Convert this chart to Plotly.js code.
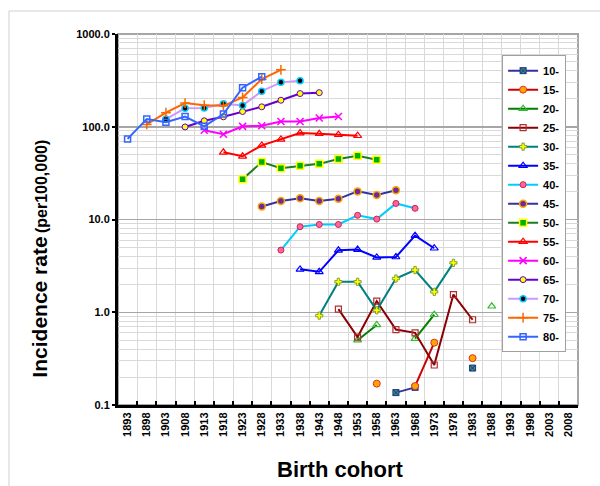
<!DOCTYPE html>
<html>
<head>
<meta charset="utf-8">
<script src="https://cdn.plot.ly/plotly-3.0.1.min.js"></script>
<style>
  html, body { margin: 0; padding: 0; background: #fff; }
  #chart { width: 600px; height: 486px; }
</style>
</head>
<body>
<div id="chart"></div>
<script>
// Birth cohort categories (x axis)
const cohorts = ["1893","1898","1903","1908","1913","1918","1923","1928","1933","1938","1943","1948",
                 "1953","1958","1963","1968","1973","1978","1983","1988","1993","1998","2003","2008"];

// Age-group series: name, first cohort, incidence rates (per 100,000); null = no value
const ageGroups = ["10-","15-","20-","25-","30-","35-","40-","45-","50-","55-","60-","65-","70-","75-","80-"];
const startCohort = {
  "10-":"1963","15-":"1958","20-":"1953","25-":"1948","30-":"1943","35-":"1938","40-":"1933","45-":"1928",
  "50-":"1923","55-":"1918","60-":"1913","65-":"1908","70-":"1903","75-":"1898","80-":"1893"
};
const rate10 = [0.136, 0.155, null, null, 0.25];
const rate15 = [0.17, null, 0.16, 0.47, null, 0.32];
const rate20 = [0.50, 0.73, null, 0.52, 0.94, null, null, 1.16];
const rate25 = [1.08, 0.54, 1.32, 0.65, 0.60, 0.27, 1.55, 0.83];
const rate30 = [0.92, 2.13, 2.13, 1.05, 2.31, 2.85, 1.66, 3.41];
const rate35 = [2.9, 2.73, 4.65, 4.74, 3.9, 3.94, 6.7, 4.9];
const rate40 = [4.68, 8.36, 8.83, 8.83, 11.1, 10.1, 14.9, 13.2];
const rate45 = [13.8, 15.8, 16.9, 15.8, 16.7, 20.1, 18.4, 20.7];
const rate50 = [27.2, 41.6, 35.8, 37.9, 39.8, 44.8, 48.6, 44.0];
const rate55 = [53, 48, 63, 73, 85.5, 84, 82, 80];
const rate60 = [91.6, 83, 101, 102.5, 114, 114, 124, 129];
const rate65 = [99.5, 116, 128, 146, 164, 193, 228, 233];
const rate70 = [121, 158, 159, 177, 170, 242, 301, 314];
const rate75 = [106, 142, 180, 171, 168, 207, 326, 411];
const rate80 = [74, 121, 112, 129, 101, 137, 264, 347];

const rates = {"10-":rate10,"15-":rate15,"20-":rate20,"25-":rate25,"30-":rate30,"35-":rate35,"40-":rate40,
  "45-":rate45,"50-":rate50,"55-":rate55,"60-":rate60,"65-":rate65,"70-":rate70,"75-":rate75,"80-":rate80};

// Styles
const styles = {
  "10-": {line:"#333399", marker:{symbol:"square-x", color:"#339966", size:6, line:{color:"#1F2F8F", width:1}}},
  "15-": {line:"#CC0000", marker:{symbol:"circle", color:"#FFA500", size:7, line:{color:"#E03020", width:1}}},
  "20-": {line:"#008000", marker:{symbol:"triangle-up-open", color:"#33BB33", size:7, line:{color:"#33BB33", width:1.2}}},
  "25-": {line:"#8B0000", marker:{symbol:"square-open", color:"#B03030", size:6, line:{color:"#B03030", width:1.2}}},
  "30-": {line:"#008080", marker:{symbol:"cross", color:"#FFFF00", size:6, line:{color:"#6B8E23", width:0.8}}},
  "35-": {line:"#0000FF", marker:{symbol:"triangle-up-open", color:"#0000FF", size:7, line:{color:"#0000FF", width:1.2}}},
  "40-": {line:"#00CCFF", marker:{symbol:"circle", color:"#FF6699", size:6, line:{color:"#CC2255", width:1}}},
  "45-": {line:"#333399", marker:{symbol:"circle", color:"#6A2C9A", size:7, line:{color:"#FFA500", width:1.5}}},
  "50-": {line:"#1E7B1E", marker:{symbol:"square", color:"#00B000", size:7, line:{color:"#FFFF00", width:1.5}}},
  "55-": {line:"#FF0000", marker:{symbol:"triangle-up-open", color:"#FF0000", size:7, line:{color:"#FF0000", width:1.2}}},
  "60-": {line:"#FF00FF", marker:{symbol:"x-thin-open", color:"#FF00FF", size:7, line:{color:"#FF00FF", width:1.5}}},
  "65-": {line:"#6600CC", marker:{symbol:"circle", color:"#FFFF00", size:6, line:{color:"#6600CC", width:1}}},
  "70-": {line:"#CC99FF", marker:{symbol:"circle", color:"#000000", size:6, line:{color:"#00CCFF", width:1.5}}},
  "75-": {line:"#FF6600", marker:{symbol:"cross-thin-open", color:"#FF6600", size:7, line:{color:"#FF6600", width:1.5}}},
  "80-": {line:"#3366FF", marker:{symbol:"square-open", color:"#3366FF", size:6, line:{color:"#3366FF", width:1.5}}}
};

const traces = ageGroups.map(g => {
  const vals = rates[g];
  const s = cohorts.indexOf(startCohort[g]);
  const xs = vals.map((v, i) => cohorts[s + i]);
  return {
    type: "scatter", mode: "lines+markers", name: g,
    x: xs, y: vals, connectgaps: false,
    line: {color: styles[g].line, width: 2},
    marker: styles[g].marker
  };
});

const fontFam = "Liberation Sans, Arial, sans-serif";
const decadeVals = [0.1, 1, 10, 100, 1000];
const decadeText = ["0.1", "1.0", "10.0", "100.0", "1000.0"];
const minorVals = [];
[0.1, 1, 10, 100].forEach(b => { for (let k = 2; k <= 9; k++) minorVals.push(b * k); });

const layout = {
  width: 600, height: 486,
  margin: {l: 118, r: 22, t: 34, b: 81},
  paper_bgcolor: "#fff", plot_bgcolor: "#fff",
  font: {family: fontFam, color: "#000"},
  showlegend: true,
  legend: {
    x: 0.835, xanchor: "left", y: 0.943, yanchor: "top",
    bgcolor: "#fff", bordercolor: "#A0A0A0", borderwidth: 1,
    font: {family: fontFam, size: 11, color: "#000", weight: "bold"},
    itemwidth: 30, tracegroupgap: 0
  },
  xaxis: {
    type: "category", categoryorder: "array", categoryarray: cohorts,
    range: [-0.5, cohorts.length - 0.5],
    tickson: "boundaries", ticks: "inside", ticklen: 4, tickwidth: 2, tickcolor: "#000",
    tickangle: -90, tickfont: {family: fontFam, size: 11, weight: "bold"},
    showgrid: true, gridcolor: "#D9D9D9", gridwidth: 1,
    showline: true, linecolor: "#000", linewidth: 3,
    zeroline: false, fixedrange: true
  },
  yaxis: {
    type: "log", range: [-1, 3],
    tickmode: "array", tickvals: decadeVals, ticktext: decadeText,
    tickfont: {family: fontFam, size: 11, weight: "bold"},
    ticks: "outside", ticklen: 3, tickwidth: 2, tickcolor: "#000",
    showgrid: true, gridcolor: "#A6A6A6", gridwidth: 1.5,
    minor: {tickmode: "array", tickvals: minorVals, showgrid: true, gridcolor: "#D9D9D9", gridwidth: 1, ticks: ""},
    showline: true, linecolor: "#000", linewidth: 3,
    zeroline: false, fixedrange: true
  },
  shapes: [
    {type: "rect", xref: "paper", yref: "paper", x0: -0.237, x1: 1.2, y0: -0.4, y1: 1.062,
     line: {color: "#D0D0D0", width: 1}, layer: "below"},
    {type: "rect", xref: "paper", yref: "paper", x0: 0, x1: 1, y0: 0, y1: 1,
     line: {color: "#A6A6A6", width: 2}, layer: "below"}
  ],
  annotations: [
    {xref: "paper", yref: "paper", x: -0.17, y: 0.394, textangle: -90, showarrow: false,
     xanchor: "center", yanchor: "middle",
     text: "<b><span style='font-size:21px'>Incidence rate</span> <span style='font-size:16px'>(per100,000)</span></b>",
     font: {family: fontFam, color: "#000"}},
    {xref: "paper", yref: "paper", x: 0.483, y: -0.173, showarrow: false,
     xanchor: "center", yanchor: "middle",
     text: "<b>Birth cohort</b>", font: {family: fontFam, size: 22, color: "#000"}}
  ]
};

Plotly.newPlot("chart", traces, layout, {displayModeBar: false, staticPlot: true});
</script>
</body>
</html>
